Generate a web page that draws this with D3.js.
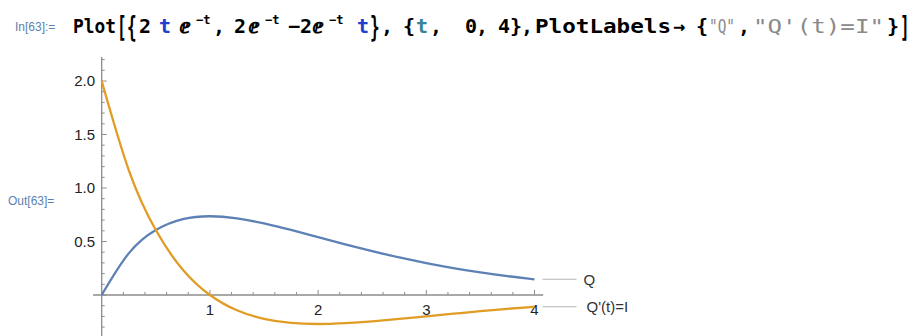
<!DOCTYPE html>
<html>
<head>
<meta charset="utf-8">
<script src="https://cdn.jsdelivr.net/npm/d3@7"></script>
<style>
  html, body { margin: 0; padding: 0; background: #fff; }
  svg { display: block; }
</style>
</head>
<body>
<script>
var tValues = [0, 0.25, 0.5, 0.75, 1, 1.25, 1.5, 1.75, 2, 2.25, 2.5, 2.75, 3, 3.25, 3.5, 3.75, 4];
var qValues = [0, 0.389, 0.607, 0.709, 0.736, 0.716, 0.669, 0.608, 0.541, 0.474, 0.410, 0.351, 0.299, 0.252, 0.211, 0.176, 0.147];
var iValues = [2.0, 1.168, 0.607, 0.236, 0, -0.143, -0.223, -0.261, -0.271, -0.263, -0.246, -0.224, -0.199, -0.175, -0.151, -0.129, -0.110];
var seriesNames = ["Q", "Q'(t)=I"];
var xTickLabels = [1, 2, 3, 4];
var yTickLabels = [0.5, 1.0, 1.5, 2.0];

var width = 914, height = 336;
var colors = ["#5e81b5", "#e19c24"];

var svg = d3.select("body").append("svg")
    .attr("width", width)
    .attr("height", height);

// --- notebook input line ---
var mono = "'DejaVu Sans Mono', monospace";
var header = svg.append("g");
header.append("text")
    .attr("x", 15).attr("y", 31)
    .attr("fill", "#5a82b0")
    .style("font-family", "'Liberation Sans', Arial, sans-serif")
    .style("font-size", "12px")
    .text("In[63]:=");

var tokens = [
    { x: 73, t: "Plot", len: 43 },
    { x: 117, t: "[", big: true },
    { x: 127, t: "{", big: true },
    { x: 139, t: "2" },
    { x: 159, t: "t", c: "#1f3fd0" },
    { x: 180, t: "ⅇ" },
    { x: 196, t: "−t", sup: true },
    { x: 213, t: "," },
    { x: 234, t: "2" },
    { x: 249, t: "ⅇ" },
    { x: 265, t: "−t", sup: true },
    { x: 288, t: "−2" },
    { x: 313, t: "ⅇ" },
    { x: 329, t: "−t", sup: true },
    { x: 357, t: "t", c: "#1f3fd0" },
    { x: 370, t: "}", big: true },
    { x: 381, t: "," },
    { x: 403, t: "{" },
    { x: 416, t: "t", c: "#3b8497" },
    { x: 430, t: "," },
    { x: 465, t: "0" },
    { x: 476, t: "," },
    { x: 498, t: "4" },
    { x: 510, t: "}" },
    { x: 521, t: "," },
    { x: 535, t: "PlotLabels", len: 136 },
    { x: 673, t: "→" },
    { x: 696, t: "{" },
    { x: 709, t: "\"Q\"", c: "#8a8a8a", light: true, len: 26 },
    { x: 738, t: "," },
    { x: 753, t: "\"Q'(t)=I\"", c: "#8a8a8a", light: true, len: 131 },
    { x: 887, t: "}" },
    { x: 900, t: "]", big: true }
];

tokens.forEach(function (d) {
    var el = header.append("text")
        .attr("fill", d.c || "#000")
        .style("font-family", mono)
        .style("font-weight", d.light ? "normal" : "bold")
        .style("font-size", d.sup ? "12px" : "20px")
        .text(d.t);
    if (d.big) {
        // stretched brackets, like the notebook's tall delimiters
        el.attr("transform", "translate(" + d.x + ",37) scale(0.8,1.4)");
    } else {
        el.attr("x", d.x).attr("y", d.sup ? 24 : 33);
    }
    if (d.len) el.attr("textLength", d.len).attr("lengthAdjust", "spacingAndGlyphs");
});

// --- output label ---
svg.append("text")
    .attr("x", 8).attr("y", 205)
    .attr("fill", "#5a82b0")
    .style("font-family", "'Liberation Sans', Arial, sans-serif")
    .style("font-size", "12px")
    .text("Out[63]=");

// --- plot ---
var x = d3.scaleLinear().domain([0, 4]).range([101.7, 534.5]);
var y = d3.scaleLinear().domain([0, 2]).range([295, 81]);

var axisColor = "#8c8c8c";
var plot = svg.append("g");

// x axis
plot.append("line")
    .attr("x1", x(-0.08)).attr("x2", x(4.08))
    .attr("y1", y(0)).attr("y2", y(0))
    .attr("stroke", axisColor).attr("stroke-width", 1.3);

var xMinor = d3.range(0, 21).map(function (i) { return i * 0.2; });
plot.append("g").selectAll("line")
    .data(xMinor)
    .join("line")
    .attr("x1", d => x(d)).attr("x2", d => x(d))
    .attr("y1", y(0))
    .attr("y2", d => y(0) - (Math.abs(d - Math.round(d)) < 1e-6 ? 5 : 3))
    .attr("stroke", axisColor).attr("stroke-width", 1);

plot.append("g").selectAll("text")
    .data(xTickLabels)
    .join("text")
    .attr("x", d => x(d))
    .attr("y", 315)
    .attr("text-anchor", "middle")
    .attr("fill", "#222")
    .style("font-family", "'Liberation Sans', Arial, sans-serif")
    .style("font-size", "15px")
    .text(d => d);

// y axis
plot.append("line")
    .attr("x1", x(0)).attr("x2", x(0))
    .attr("y1", y(2.225)).attr("y2", height + 2)
    .attr("stroke", axisColor).attr("stroke-width", 1.3);

var yMinor = d3.range(-4, 23).map(function (i) { return i / 10; });
plot.append("g").selectAll("line")
    .data(yMinor)
    .join("line")
    .attr("x1", x(0))
    .attr("x2", d => x(0) + (Math.abs(d * 2 - Math.round(d * 2)) < 1e-6 ? 5 : 3))
    .attr("y1", d => y(d)).attr("y2", d => y(d))
    .attr("stroke", axisColor).attr("stroke-width", 1);

plot.append("g").selectAll("text")
    .data(yTickLabels)
    .join("text")
    .attr("x", 95)
    .attr("y", d => y(d))
    .attr("dy", "0.36em")
    .attr("text-anchor", "end")
    .attr("fill", "#222")
    .style("font-family", "'Liberation Sans', Arial, sans-serif")
    .style("font-size", "15px")
    .text(d => d3.format(".1f")(d));

// curves
var series = [qValues, iValues];
var line = d3.line()
    .x((d, i) => x(tValues[i]))
    .y(d => y(d))
    .curve(d3.curveNatural);

plot.append("g").selectAll("path")
    .data(series)
    .join("path")
    .attr("d", d => line(d))
    .attr("fill", "none")
    .attr("stroke", (d, i) => colors[i])
    .attr("stroke-width", 2.3);

// plot labels at the right end of each curve
var labels = plot.append("g").selectAll("g")
    .data(series)
    .join("g");

labels.append("line")
    .attr("x1", x(4) + 8).attr("x2", x(4) + 42)
    .attr("y1", d => y(d[d.length - 1])).attr("y2", d => y(d[d.length - 1]))
    .attr("stroke", "#b4b4b4").attr("stroke-width", 1.2);

labels.append("text")
    .attr("x", (d, i) => x(4) + (i === 0 ? 49 : 52))
    .attr("y", d => y(d[d.length - 1]))
    .attr("dy", "0.36em")
    .attr("fill", "#333")
    .style("font-family", "'Liberation Sans', Arial, sans-serif")
    .style("font-size", "15px")
    .text((d, i) => seriesNames[i]);
</script>
</body>
</html>
